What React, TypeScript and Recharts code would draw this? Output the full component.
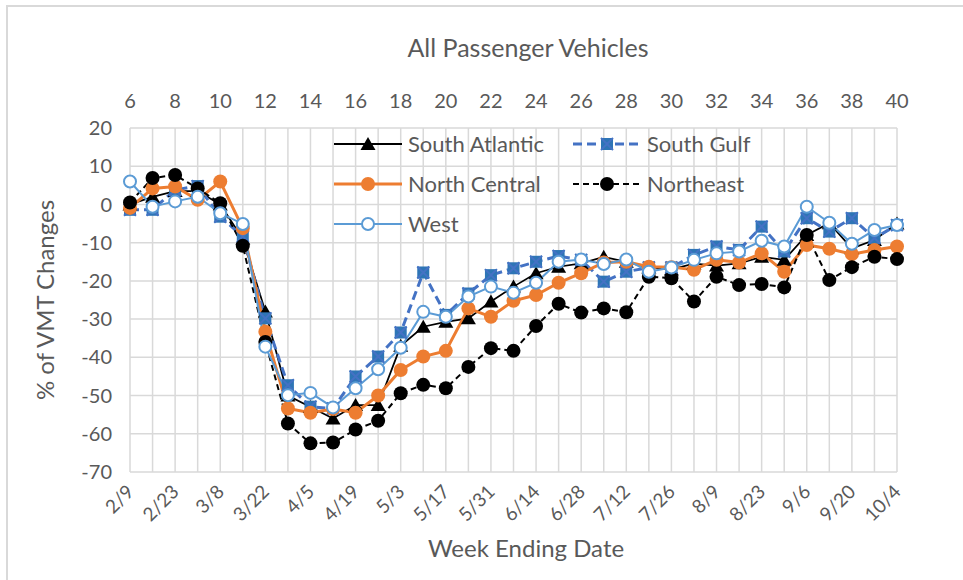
import React from "react";
import {
  LineChart,
  Line,
  XAxis,
  YAxis,
  CartesianGrid,
} from "recharts";

const weeks = [6, 7, 8, 9, 10, 11, 12, 13, 14, 15, 16, 17, 18, 19, 20, 21, 22, 23, 24, 25, 26, 27, 28, 29, 30, 31, 32, 33, 34, 35, 36, 37, 38, 39, 40];
const weekDates = ["2/9", "2/16", "2/23", "3/1", "3/8", "3/15", "3/22", "3/29", "4/5", "4/12", "4/19", "4/26", "5/3", "5/10", "5/17", "5/24", "5/31", "6/7", "6/14", "6/21", "6/28", "7/5", "7/12", "7/19", "7/26", "8/2", "8/9", "8/16", "8/23", "8/30", "9/6", "9/13", "9/20", "9/27", "10/4"];
const topTicks = [6, 8, 10, 12, 14, 16, 18, 20, 22, 24, 26, 28, 30, 32, 34, 36, 38, 40];
const yTicks = [-70, -60, -50, -40, -30, -20, -10, 0, 10, 20];

const southAtlantic = [0, 2, 3.5, 3.5, 0, -9, -28, -50, -53, -56, -52.5, -52.5, -37, -32, -30.7, -29.8, -25.4, -21.5, -18, -16.3, -15.4, -13.7, -15, -16.5, -17, -15.5, -16, -15.4, -13.7, -14.5, -8, -4.9, -11.5, -9.3, -5];
const southGulf = [-1.4, -1.4, 3.8, 4.8, -3.2, -8.4, -29.8, -47.3, -52.9, -53.4, -45, -39.8, -33.5, -17.8, -28.9, -23.3, -18.5, -16.7, -15, -13.5, -14.5, -20.2, -17.6, -16.5, -16.5, -13.2, -11, -11.9, -5.8, -12.3, -3.6, -7.1, -3.6, -8.8, -5.4];
const northCentral = [-0.9, 4.2, 4.7, 1.2, 6, -6.2, -33.3, -53.4, -54.5, -53.5, -54.5, -50, -43.3, -39.8, -38.3, -27.2, -29.4, -25.2, -23.7, -20.5, -18, -15.2, -15, -16.3, -16.4, -17.1, -14.5, -15.2, -12.8, -17.6, -10.6, -11.6, -13, -11.9, -11];
const northeast = [0.5, 6.9, 7.7, 4.2, 0.3, -10.8, -36, -57.3, -62.5, -62.3, -58.9, -56.6, -49.4, -47.2, -48.1, -42.5, -37.6, -38.3, -31.8, -26, -28.3, -27.2, -28.2, -18.9, -19.3, -25.4, -18.9, -21.1, -20.8, -21.7, -8, -19.8, -16.4, -13.7, -14.3];
const west = [6, -0.6, 0.8, 2, -2.3, -5.1, -37.2, -49.9, -49.3, -53.1, -48.1, -43.1, -37.5, -28.1, -29.4, -24.1, -21.5, -23.1, -20.5, -15, -14.4, -15.6, -14.4, -17.6, -16.5, -14.5, -12.8, -12.3, -9.5, -11, -0.6, -4.8, -10.3, -6.7, -5.4];

const data = weeks.map((w, i) => ({
  week: w,
  date: weekDates[i],
  southAtlantic: southAtlantic[i],
  southGulf: southGulf[i],
  northCentral: northCentral[i],
  northeast: northeast[i],
  west: west[i],
}));

const FONT = "Lato, 'Open Sans', sans-serif";
const TEXT = "#595959";
const GRID = "#D9D9D9";

const ORANGE = "#ED7D31";
const LIGHT_BLUE = "#5B9BD5";
const GULF_LINE = "#4472C4";
const GULF_MARK = "#2E75B6";

function triangle(cx: number, cy: number, key?: any) {
  return (
    <path
      key={key}
      d={`M${cx},${cy - 7} L${cx + 7.5},${cy + 6} L${cx - 7.5},${cy + 6} Z`}
      fill="#000"
    />
  );
}

function squareX(cx: number, cy: number, key?: any) {
  const s = 6;
  return (
    <g key={key}>
      <rect x={cx - s} y={cy - s} width={s * 2} height={s * 2} fill={GULF_MARK} />
      <path
        d={`M${cx - s},${cy - s} L${cx + s},${cy + s} M${cx + s},${cy - s} L${cx - s},${cy + s}`}
        stroke={GULF_LINE}
        strokeWidth={2}
      />
    </g>
  );
}

const TriangleDot = (p: any) => triangle(p.cx, p.cy, p.key ?? p.index);
const SquareDot = (p: any) => squareX(p.cx, p.cy, p.key ?? p.index);
const OrangeDot = (p: any) => <circle key={p.key ?? p.index} cx={p.cx} cy={p.cy} r={7} fill={ORANGE} />;
const BlackDot = (p: any) => <circle key={p.key ?? p.index} cx={p.cx} cy={p.cy} r={7} fill="#000" />;
const OpenDot = (p: any) => (
  <circle key={p.key ?? p.index} cx={p.cx} cy={p.cy} r={6} fill="#fff" stroke={LIGHT_BLUE} strokeWidth={2} />
);

const DateTick = (props: any) => {
  const { x, y, payload } = props;
  const w = payload.value;
  if ((w - 6) % 2 !== 0) return <g />;
  const label = weekDates[weeks.indexOf(w)];
  return (
    <g transform={`translate(${x + 5},${y + 13})`}>
      <text
        x={0}
        y={0}
        textAnchor="end"
        transform="rotate(-45)"
        fill={TEXT}
        fontSize={19}
        fontFamily={FONT}
      >
        {label}
      </text>
    </g>
  );
};

const legendRows = [
  [
    { name: "South Atlantic", color: "#000", width: 2, dash: undefined, mark: "tri" },
    { name: "South Gulf", color: GULF_LINE, width: 3, dash: "9 5", mark: "sq" },
  ],
  [
    { name: "North Central", color: ORANGE, width: 3, dash: undefined, mark: "orange" },
    { name: "Northeast", color: "#000", width: 2, dash: "6 4", mark: "black" },
  ],
  [{ name: "West", color: LIGHT_BLUE, width: 2, dash: undefined, mark: "open" }],
];

function legendMark(kind: string, cx: number, cy: number) {
  if (kind === "tri") return triangle(cx, cy);
  if (kind === "sq") return squareX(cx, cy);
  if (kind === "orange") return <circle cx={cx} cy={cy} r={7} fill={ORANGE} />;
  if (kind === "black") return <circle cx={cx} cy={cy} r={7} fill="#000" />;
  return <circle cx={cx} cy={cy} r={6} fill="#fff" stroke={LIGHT_BLUE} strokeWidth={2} />;
}

function Overlay() {
  const rowY = [144, 184, 224];
  const colX = [334, 573];
  return (
    <svg
      width={963}
      height={580}
      style={{ position: "absolute", left: 0, top: 0, pointerEvents: "none" }}
    >
      <rect x={7} y={6} width={980} height={600} fill="none" stroke={GRID} strokeWidth={2} />
      <text x={528} y={57} textAnchor="middle" fill={TEXT} fontSize={25} fontFamily={FONT}>
        All Passenger Vehicles
      </text>
      <text
        x={0}
        y={0}
        transform="translate(54,300) rotate(-90)"
        textAnchor="middle"
        fill={TEXT}
        fontSize={24}
        fontFamily={FONT}
      >
        % of VMT Changes
      </text>
      <text x={526} y={557} textAnchor="middle" fill={TEXT} fontSize={24} fontFamily={FONT}>
        Week Ending Date
      </text>
      {legendRows.map((row, r) =>
        row.map((item, c) => {
          const x0 = colX[c];
          const cy = rowY[r];
          return (
            <g key={item.name}>
              <line
                x1={x0}
                y1={cy}
                x2={x0 + 68}
                y2={cy}
                stroke={item.color}
                strokeWidth={item.width}
                strokeDasharray={item.dash}
              />
              {legendMark(item.mark, x0 + 34, cy)}
              <text x={x0 + 74} y={cy + 8} fill={TEXT} fontSize={22} fontFamily={FONT}>
                {item.name}
              </text>
            </g>
          );
        })
      )}
    </svg>
  );
}

export default function App() {
  return (
    <div style={{ position: "fixed", left: 0, top: 0, width: 963, height: 580, background: "#fff" }}>
      <LineChart
        width={963}
        height={580}
        data={data}
        margin={{ top: 88, right: 16, bottom: 8, left: 60 }}
      >
        <CartesianGrid xAxisId="bottom" yAxisId="left" stroke={GRID} strokeWidth={1.5} />
        <XAxis
          xAxisId="bottom"
          dataKey="week"
          type="number"
          domain={[6, 40]}
          ticks={weeks}
          interval={0}
          height={100}
          axisLine={false}
          tickLine={false}
          tick={<DateTick />}
        />
        <XAxis
          xAxisId="top"
          orientation="top"
          dataKey="week"
          type="number"
          domain={[6, 40]}
          ticks={topTicks}
          interval={0}
          height={40}
          axisLine={false}
          tickLine={false}
          tickMargin={14}
          tick={{ fill: TEXT, fontSize: 20, fontFamily: FONT }}
        />
        <YAxis
          yAxisId="left"
          domain={[-70, 20]}
          ticks={yTicks}
          interval={0}
          width={70}
          axisLine={false}
          tickLine={false}
          tickMargin={12}
          tick={{ fill: TEXT, fontSize: 20, fontFamily: FONT }}
        />
        <YAxis
          yAxisId="right"
          orientation="right"
          domain={[-70, 20]}
          ticks={yTicks}
          interval={0}
          width={50}
          axisLine={false}
          tickLine={false}
          tickMargin={15}
          tick={{ fill: TEXT, fontSize: 20, fontFamily: FONT, textAnchor: "start" }}
        />
        <Line
          xAxisId="bottom"
          yAxisId="left"
          dataKey="southAtlantic"
          stroke="#000"
          strokeWidth={1.75}
          dot={TriangleDot}
          isAnimationActive={false}
        />
        <Line
          xAxisId="bottom"
          yAxisId="left"
          dataKey="southGulf"
          stroke={GULF_LINE}
          strokeWidth={3}
          strokeDasharray="9 5"
          dot={SquareDot}
          isAnimationActive={false}
        />
        <Line
          xAxisId="bottom"
          yAxisId="left"
          dataKey="northCentral"
          stroke={ORANGE}
          strokeWidth={3}
          dot={OrangeDot}
          isAnimationActive={false}
        />
        <Line
          xAxisId="bottom"
          yAxisId="left"
          dataKey="northeast"
          stroke="#000"
          strokeWidth={2}
          strokeDasharray="6 4"
          dot={BlackDot}
          isAnimationActive={false}
        />
        <Line
          xAxisId="bottom"
          yAxisId="left"
          dataKey="west"
          stroke={LIGHT_BLUE}
          strokeWidth={2}
          dot={OpenDot}
          isAnimationActive={false}
        />
      </LineChart>
      <Overlay />
    </div>
  );
}
